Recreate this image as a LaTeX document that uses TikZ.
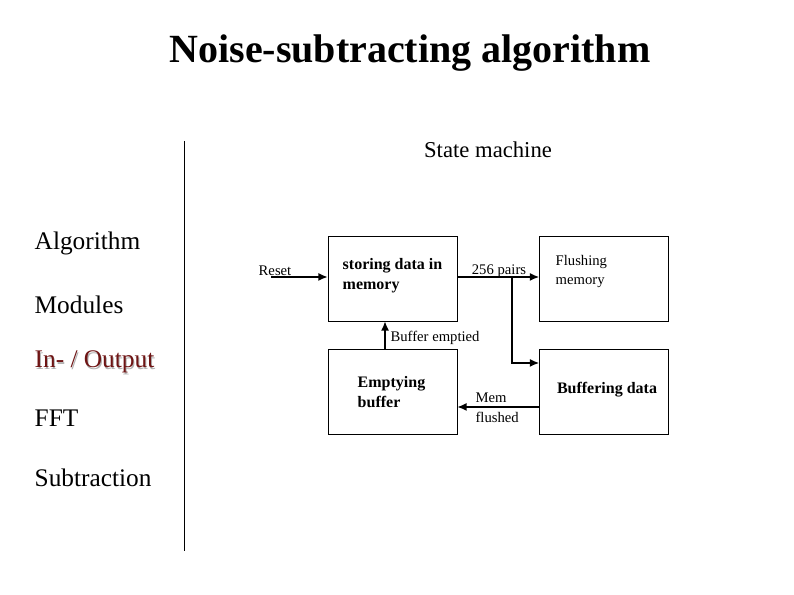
\documentclass[tikz,border=0pt]{standalone}
\usepackage{fontspec}
\setmainfont{Liberation Serif}
\usetikzlibrary{positioning, arrows.meta}
\definecolor{darkred}{RGB}{110,20,20}
\begin{document}
\begin{tikzpicture}[
        x=0.75pt, y=-0.75pt,
        >={Latex[length=7pt,width=6pt]},
        state/.style={draw, rectangle, minimum width=129*0.75pt, minimum height=85*0.75pt, inner sep=0pt},
        side/.style={anchor=west, font=\fontsize{19}{22}\selectfont},
        lbl/.style={font=\fontsize{11}{12}\selectfont, inner sep=1pt},
        flow/.style={->, line width=1.2pt}
    ]
    \useasboundingbox (0,0) rectangle (794,595);

    \node[font=\bfseries\fontsize{30}{33}\selectfont] (title) at (410,53) {Noise-subtracting algorithm};
    \node[font=\fontsize{17}{20}\selectfont] (sm) at (488,150) {State machine};

    \draw (184,141) -- (184,551);

    \node[side] (algo) at (30,243) {Algorithm};
    \node[side] (mods) at (30,305) {Modules};
    \node[side, text=gray!60] at (31,363.5) {In- / Output};
    \node[side, text=darkred] (io) at (30,362) {In- / Output};
    \node[side] (fft) at (30,418) {FFT};
    \node[side] (sub) at (30,478) {Subtraction};

    % states
    \node[state] (store) at (392.5,278.5) {};
    \node[state] (flush) at (604,278.5) {};
    \node[state] (empty) at (392.5,391.5) {};
    \node[state] (buffer) at (604,391.5) {};

    \node[font=\bfseries\fontsize{12}{15}\selectfont, align=left, anchor=north west] at (338,254) {storing data in\\memory};
    \node[font=\fontsize{11}{14}\selectfont, align=left, anchor=north west] at (551,251) {Flushing\\memory};
    \node[font=\bfseries\fontsize{12}{15}\selectfont, align=left, anchor=north west] at (353,372) {Emptying\\buffer};
    \node[font=\bfseries\fontsize{12}{14}\selectfont] at (607,390) {Buffering data};

    % transitions
    \coordinate (rst) at (271,277);
    \draw[flow] (rst) -- (store.west |- rst);
    \node[lbl] at (275,271) {Reset};

    \draw[flow] (store.east |- rst) -- (flush.west |- rst);
    \node[lbl] at (499,271) {256 pairs};
    \coordinate (split) at (512,277);
    \draw[flow] (split) |- (buffer.west |- 0,363);

    \draw[flow] (empty.north -| 385,0) -- (store.south -| 385,0);
    \node[lbl, anchor=west] at (389,338) {Buffer emptied};

    \draw[flow] (buffer.west |- 0,407) -- (empty.east |- 0,407);
    \node[font=\fontsize{11}{15}\selectfont, inner sep=1pt, align=left, anchor=north west] at (474,391) {Mem\\flushed};
\end{tikzpicture}
\end{document}
